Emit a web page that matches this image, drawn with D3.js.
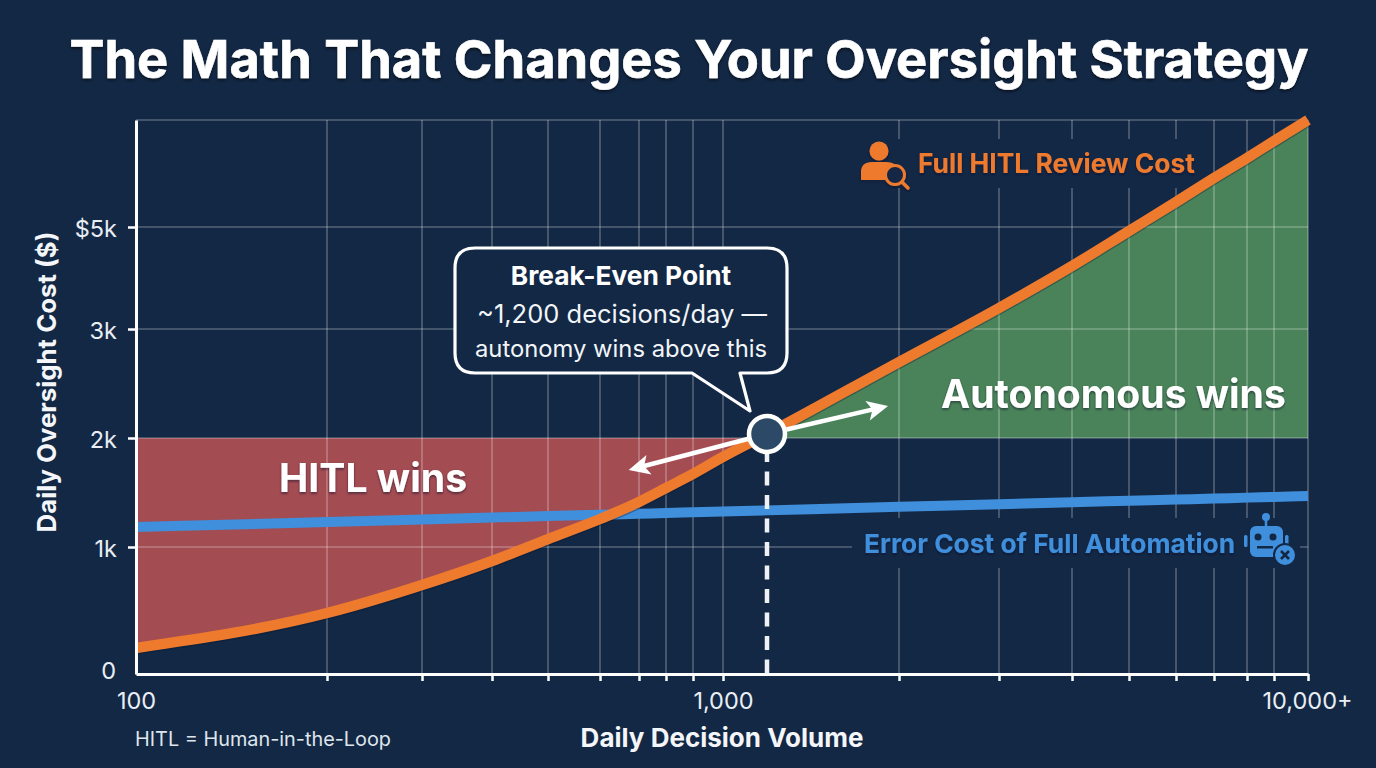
<!DOCTYPE html>
<html><head><meta charset="utf-8">
<script src="https://cdn.jsdelivr.net/npm/d3@7"></script>
<style>
html,body{margin:0;padding:0;background:#132845;overflow:hidden}
svg{display:block}
text{font-family:Inter,"Noto Sans",sans-serif}
.axis path.domain{stroke:#fff;stroke-width:3}
.axis line{stroke:#fff;stroke-width:2.5}
.axis text{font-family:Inter,"Noto Sans",sans-serif;font-size:23.5px;fill:#e9eef4}
</style></head><body>
<svg id="c" width="1376" height="768"></svg>
<script>
// ---- data ----
const titleText = "The Math That Changes Your Oversight Strategy";
const volumes   = [100,200,300,400,500,600,700,800,900,1000,1200,2000,3000,4000,5000,6000,7000,8000,9000,10000];
const hitlCost  = [205,480,701,890,1073,1257,1413,1541,1670,1826,2037,2697,3412,4235,4922,5467,5916,6290,6607,7000];
const errorCost = [1183,1229,1253,1270,1284,1296,1305,1312,1318,1325,1336,1369,1392,1411,1424,1435,1444,1453,1459,1468];
const xGridTicks = [200,300,400,500,600,700,800,900,1000,2000,3000,4000,5000,6000,7000,8000,9000,10000];
const xAxisTicks = [100,...xGridTicks];
const xTickLabels = new Map([[100,"100"],[1000,"1,000"],[10000,"10,000+"]]);
const yTicks = [0,1000,2000,3000,5000];
const yTickLabels = new Map([[0,"0"],[1000,"1k"],[2000,"2k"],[3000,"3k"],[5000,"$5k"]]);
const yGridTicks = [1000,2000,3000,5000,7000];
const thresholdCost = 2000;
const breakEven = {volume:1200,cost:2037};
const arrowTargets = [{volume:672,cost:1706},{volume:1917,cost:2294}];
const calloutLines = ["Break-Even Point","~1,200 decisions/day —","autonomy wins above this"];

// ---- scales (the reference axis is hand-spaced, hence the knots) ----
const x = d3.scaleLog()
  .domain(volumes)
  .range([136,327,422,492,548,600,639,666,693,723,767,899,999,1072,1129,1176,1214,1247,1274,1308]);
const y = d3.scaleLinear()
  .domain([0,1000,2000,3000,5000,7000])
  .range([674,547,438,329,227,120]);

const BG = "#132845", ORANGE = "#ee7a2e", BLUE = "#3f8fdc";
const svg = d3.select("#c");
svg.append("rect").attr("width",1376).attr("height",768).attr("fill",BG);

const defs = svg.append("defs");
const shadow = (id,dy,blur,col,op)=>defs.append("filter").attr("id",id)
  .attr("x","-20%").attr("y","-30%").attr("width","140%").attr("height","170%")
  .append("feDropShadow").attr("dx",0).attr("dy",dy).attr("stdDeviation",blur)
  .attr("flood-color",col).attr("flood-opacity",op);
shadow("ts",2,1.5,"#000",.55);
shadow("ls",1.5,1.2,"#07122a",.6);

const rows = volumes.map((v,i)=>({v,h:hitlCost[i],e:errorCost[i]}));
const curve = d3.curveMonotoneX;

// winning regions
const region = d3.area().curve(curve).x(d=>x(d.v))
  .y0(y(thresholdCost)).y1(d=>y(Math.min(d.h,thresholdCost)));
const regionUp = d3.area().curve(curve).x(d=>x(d.v))
  .y0(y(thresholdCost)).y1(d=>y(Math.max(d.h,thresholdCost)));
svg.append("path").datum(rows.filter(d=>d.v<=breakEven.volume)).attr("d",region).attr("fill","#a34c52");
svg.append("path").datum(rows.filter(d=>d.v>=breakEven.volume)).attr("d",regionUp).attr("fill","#4a8359");

// grid
const grid = svg.append("g").attr("stroke","#fff").attr("stroke-opacity",.28).attr("stroke-width",1.6);
grid.selectAll("line.v").data(xGridTicks).join("line").attr("class","v")
  .attr("x1",d=>x(d)).attr("x2",d=>x(d)).attr("y1",y(7000)).attr("y2",y(0));
grid.selectAll("line.h").data(yGridTicks).join("line").attr("class","h")
  .attr("x1",x(100)).attr("x2",x(10000)).attr("y1",d=>y(d)).attr("y2",d=>y(d));

// clear patches behind the two series labels
svg.append("rect").attr("x",858).attr("y",139).attr("width",340).attr("height",49).attr("fill",BG);
svg.append("rect").attr("x",852).attr("y",518).attr("width",448).attr("height",50).attr("fill",BG);

// series
const line = k=>d3.line().curve(curve).x(d=>x(d.v)).y(d=>y(d[k]));
svg.append("path").datum(rows).attr("d",line("e")).attr("fill","none").attr("stroke",BLUE).attr("stroke-width",10);
svg.append("path").datum(rows).attr("d",line("h")).attr("fill","none").attr("stroke","#0a1630").attr("stroke-opacity",.35)
   .attr("stroke-width",10.5).attr("transform","translate(0,1.5)");
svg.append("path").datum(rows).attr("d",line("h")).attr("fill","none").attr("stroke",ORANGE).attr("stroke-width",10.5);

// axes
const xAxis = svg.append("g").attr("class","axis").attr("transform",`translate(0,${y(0)})`)
  .call(d3.axisBottom(x).tickValues(xAxisTicks).tickSize(7).tickSizeOuter(0).tickPadding(11)
    .tickFormat(d=>xTickLabels.get(d)||""));
xAxis.selectAll(".tick").filter(d=>d===100).select("line").remove();
xAxis.selectAll(".tick").filter(d=>d===10000).select("text").attr("x",-1);
const yAxis = svg.append("g").attr("class","axis").attr("transform",`translate(${x(100)},0)`)
  .call(d3.axisLeft(y).tickValues(yTicks).tickSize(8).tickSizeOuter(0).tickPadding(11)
    .tickFormat(d=>yTickLabels.get(d)));
yAxis.selectAll(".tick").filter(d=>d===0).select("line").remove();
yAxis.selectAll(".tick text").attr("dy",d=>d===0?".2em":".4em");
yAxis.selectAll(".tick").filter(d=>d===0).select("text").attr("x",-20);

// break-even drop line
svg.append("line").attr("x1",x(breakEven.volume)).attr("x2",x(breakEven.volume))
  .attr("y1",y(breakEven.cost)+12).attr("y2",y(0))
  .attr("stroke","#eef2f7").attr("stroke-width",4.5).attr("stroke-dasharray","14 9.5").attr("stroke-dashoffset",-2);

// arrows out of the marker
const cx = x(breakEven.volume), cy = y(breakEven.cost), R = 20;
arrowTargets.forEach(t=>{
  const tx=x(t.volume), ty=y(t.cost), dx=tx-cx, dy=ty-cy, L=Math.hypot(dx,dy), ux=dx/L, uy=dy/L;
  const bx=tx-ux*21, by=ty-uy*21, px=-uy, py=ux;
  svg.append("line").attr("x1",cx+ux*R).attr("y1",cy+uy*R).attr("x2",tx-ux*12).attr("y2",ty-uy*12)
    .attr("stroke","#fff").attr("stroke-width",4.5);
  svg.append("path").attr("fill","#fff")
    .attr("d",`M${tx},${ty}L${bx+px*10},${by+py*10}L${tx-ux*16},${ty-uy*16}L${bx-px*10},${by-py*10}Z`);
});
svg.append("circle").attr("cx",cx).attr("cy",cy).attr("r",18).attr("fill","#2c4a68").attr("stroke","#fff").attr("stroke-width",4.5);

// callout
const bx0=455,bx1=787,by0=248,by1=373,r=20;
svg.append("path").attr("fill",BG).attr("stroke","#fff").attr("stroke-width",3.2).attr("stroke-linejoin","round")
  .attr("d",`M${bx0+r},${by0}H${bx1-r}Q${bx1},${by0} ${bx1},${by0+r}V${by1-r}Q${bx1},${by1} ${bx1-r},${by1}H740L750,411L692,${by1}H${bx0+r}Q${bx0},${by1} ${bx0},${by1-r}V${by0+r}Q${bx0},${by0} ${bx0+r},${by0}Z`);
const label=(t,xp,yp,size,weight,fill,anchor="middle",extra)=>{
  const s=svg.append("text").attr("x",xp).attr("y",yp).attr("font-size",size).attr("font-weight",weight)
    .attr("fill",fill).attr("text-anchor",anchor).text(t);
  if(extra)extra(s);return s;};
label(calloutLines[0],621,285,26.3,700,"#fff");
label(calloutLines[1],622,323,25.5,400,"#f2f5f8");
label(calloutLines[2],621,357,23.8,400,"#f2f5f8");

// text
label(titleText,689,78,52.4,700,"#fff","middle",s=>s.attr("filter","url(#ts)").attr("stroke","#fff").attr("stroke-width",.6));
label("Daily Decision Volume",722,747,26,700,"#f4f6f9");
label("HITL = Human-in-the-Loop",135,746,19.85,400,"#dfe5ec","start");
svg.append("text").attr("transform","translate(56,382) rotate(-90)").attr("text-anchor","middle")
  .attr("font-size",25.8).attr("font-weight",700).attr("fill","#f4f6f9").text("Daily Oversight Cost ($)");
label("Full HITL Review Cost",918,173,26.4,700,ORANGE,"start",s=>s.attr("filter","url(#ls)"));
label("Error Cost of Full Automation",864,553,26.35,700,BLUE,"start",s=>s.attr("filter","url(#ls)"));
label("HITL wins",279,492,39.2,700,"#fff","start",s=>s.attr("filter","url(#ls)"));
label("Autonomous wins",941,408,39.1,700,"#fff","start",s=>s.attr("filter","url(#ls)"));

// person + magnifier icon
const p=svg.append("g").attr("filter","url(#ls)");
p.append("circle").attr("cx",879).attr("cy",151).attr("r",9.5).attr("fill",ORANGE);
p.append("path").attr("fill",ORANGE).attr("d","M861,180V172Q861,162 872,162H886Q892,162 896,165Q886,168 885,180Z");
p.append("circle").attr("cx",895).attr("cy",175).attr("r",9.5).attr("fill",BG).attr("stroke",ORANGE).attr("stroke-width",3);
p.append("line").attr("x1",902).attr("y1",182).attr("x2",908).attr("y2",188).attr("stroke",ORANGE).attr("stroke-width",3.5).attr("stroke-linecap","round");

// robot icon
const b=svg.append("g");
b.append("line").attr("x1",1266).attr("x2",1266).attr("y1",518).attr("y2",528).attr("stroke",BLUE).attr("stroke-width",2.5);
b.append("circle").attr("cx",1266).attr("cy",517).attr("r",4).attr("fill",BLUE);
b.append("rect").attr("x",1250).attr("y",526).attr("width",33).attr("height",31).attr("rx",6).attr("fill",BLUE);
b.append("rect").attr("x",1244).attr("y",535).attr("width",3.5).attr("height",12).attr("rx",1.5).attr("fill",BLUE);
b.append("rect").attr("x",1285).attr("y",535).attr("width",3.5).attr("height",12).attr("rx",1.5).attr("fill",BLUE);
b.append("circle").attr("cx",1258).attr("cy",537).attr("r",3.5).attr("fill",BG);
b.append("circle").attr("cx",1273).attr("cy",537).attr("r",3.5).attr("fill",BG);
b.append("rect").attr("x",1257).attr("y",546).attr("width",16).attr("height",2.5).attr("fill",BG);
b.append("circle").attr("cx",1285).attr("cy",555).attr("r",11).attr("fill",BLUE).attr("stroke",BG).attr("stroke-width",2);
b.append("path").attr("d","M1281,551L1289,559M1289,551L1281,559").attr("stroke",BG).attr("stroke-width",2.6);
</script>
</body></html>
